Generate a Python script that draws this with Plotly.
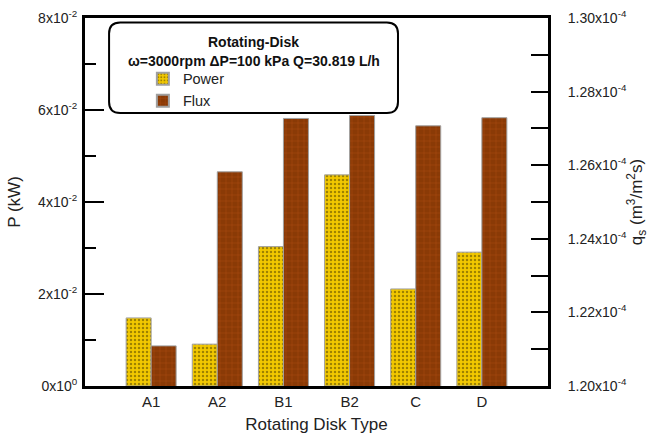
import plotly.graph_objects as go

categories = ["A1", "A2", "B1", "B2", "C", "D"]
power_kw = [0.0148, 0.0091, 0.0303, 0.0459, 0.0211, 0.0291]
flux_qs = [1.2109e-4, 1.2582e-4, 1.2727e-4, 1.2735e-4, 1.2707e-4, 1.2729e-4]

left_tickvals = [0, 0.02, 0.04, 0.06, 0.08]
left_ticktext = ["0x10<sup>0</sup>", "2x10<sup>-2</sup>", "4x10<sup>-2</sup>",
                 "6x10<sup>-2</sup>", "8x10<sup>-2</sup>"]
right_tickvals = [1.20e-4, 1.21e-4, 1.22e-4, 1.23e-4, 1.24e-4, 1.25e-4,
                  1.26e-4, 1.27e-4, 1.28e-4, 1.29e-4, 1.30e-4]
right_ticktext = ["1.20x10<sup>-4</sup>", "", "1.22x10<sup>-4</sup>", "",
                  "1.24x10<sup>-4</sup>", "", "1.26x10<sup>-4</sup>", "",
                  "1.28x10<sup>-4</sup>", "", "1.30x10<sup>-4</sup>"]

legend_title = "Rotating-Disk"
legend_subtitle = "ω=3000rpm ΔP=100 kPa Q=30.819 L/h"

FONT = "Liberation Sans, Arial, sans-serif"
BW = 0.378

fig = go.Figure()
fig.add_trace(go.Bar(
    x=categories, y=power_kw, name="Power", yaxis="y",
    width=BW, offset=-BW,
    marker=dict(color="#f2c800",
                line=dict(color="#a0a0a0", width=1),
                pattern=dict(shape=".", fgcolor="#4a3c00", size=4, solidity=0.3)),
))
fig.add_trace(go.Bar(
    x=categories, y=flux_qs, name="Flux", yaxis="y2",
    width=BW, offset=0,
    marker=dict(color="#8a3a06",
                line=dict(color="#a0a0a0", width=1),
                pattern=dict(shape="+", fgcolor="#c8581a", size=6, solidity=0.15)),
))

# rounded legend box (paper coords)
x0, x1, y0, y1 = 0.052, 0.676, 0.742, 0.988
rx, ry = 0.024, 0.030
path = (f"M {x0+rx},{y0} L {x1-rx},{y0} Q {x1},{y0} {x1},{y0+ry} "
        f"L {x1},{y1-ry} Q {x1},{y1} {x1-rx},{y1} L {x0+rx},{y1} "
        f"Q {x0},{y1} {x0},{y1-ry} L {x0},{y0+ry} Q {x0},{y0} {x0+rx},{y0} Z")
fig.add_shape(type="path", path=path, xref="paper", yref="paper",
              line=dict(color="black", width=2), fillcolor="white", layer="below")

fig.add_annotation(text="<b>" + legend_title + "</b>", xref="paper", yref="paper",
                   x=0.364, y=0.961, showarrow=False,
                   font=dict(size=14, family=FONT, color="#111"))
fig.add_annotation(text="<b>" + legend_subtitle + "</b>", xref="paper", yref="paper",
                   x=0.364, y=0.909, showarrow=False,
                   font=dict(size=14, family=FONT, color="#111"))

fig.update_layout(
    width=649, height=437,
    margin=dict(l=85, r=101, t=18, b=51, autoexpand=False),
    paper_bgcolor="white", plot_bgcolor="rgba(0,0,0,0)",
    font=dict(family=FONT, color="#222", size=14),
    barmode="overlay",
    showlegend=True,
    legend=dict(
        x=0.125, y=0.878, xanchor="left", yanchor="top",
        bgcolor="rgba(0,0,0,0)", borderwidth=0,
        font=dict(size=14.5, family=FONT, color="#222"),
        tracegroupgap=0, itemsizing="constant",
    ),
    xaxis=dict(
        type="category", categoryorder="array", categoryarray=categories,
        range=[-1, 6], showline=True, linecolor="black", linewidth=3,
        mirror=True, ticks="", showgrid=False, zeroline=False, automargin=False,
        tickfont=dict(size=15, family=FONT, color="#222"),
        title=dict(text="Rotating Disk Type", font=dict(size=17, family=FONT, color="#222"),
                   standoff=10),
    ),
    yaxis=dict(
        range=[0, 0.08], tickvals=left_tickvals, ticktext=left_ticktext,
        ticks="inside", ticklen=19, tickwidth=2, tickcolor="black",
        minor=dict(dtick=0.01, ticks="inside", ticklen=11, tickwidth=2, tickcolor="black"),
        showline=True, linecolor="black", linewidth=3, automargin=False,
        showgrid=False, zeroline=False, ticklabelstandoff=2,
        tickfont=dict(size=14, family=FONT, color="#222"),
        title=dict(text="P (kW)", font=dict(size=17, family=FONT, color="#222"), standoff=14),
    ),
    yaxis2=dict(
        overlaying="y", side="right", range=[1.20e-4, 1.30e-4],
        tickvals=right_tickvals, ticktext=right_ticktext,
        ticks="inside", ticklen=17, tickwidth=2, tickcolor="black",
        showline=True, linecolor="black", linewidth=3, automargin=False,
        showgrid=False, zeroline=False, ticklabelstandoff=14,
        tickfont=dict(size=14, family=FONT, color="#222"),
        title=dict(text="q<sub>s</sub> (m<sup>3</sup>/m<sup>2</sup>s)",
                   font=dict(size=17, family=FONT, color="#222"), standoff=8),
    ),
)

fig.write_html("out.html")
